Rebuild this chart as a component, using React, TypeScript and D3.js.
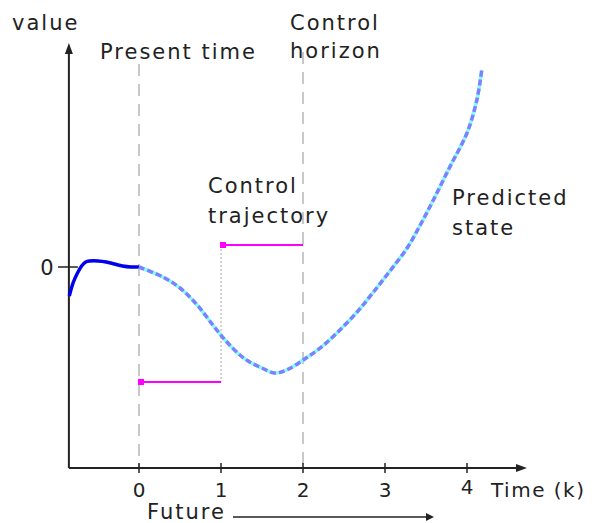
import React from "react";
import * as d3 from "d3";

// past measured output (before present time)
const pastT = [-0.85, -0.8, -0.75, -0.7, -0.65, -0.6, -0.5, -0.4, -0.3, -0.2, -0.1, 0];
const pastV = [-0.29, -0.15, -0.06, 0.01, 0.05, 0.06, 0.06, 0.05, 0.03, 0.01, 0.0, 0.0];

// predicted state
const predT = [0, 0.29, 0.5, 0.71, 0.9, 1.05, 1.23, 1.35, 1.5, 1.65, 1.8, 2.02, 2.24, 2.45, 2.66, 2.85, 3.06, 3.27, 3.43, 3.59, 3.79, 4.0, 4.12, 4.18];
const predV = [0, -0.1, -0.21, -0.38, -0.58, -0.73, -0.88, -0.95, -1.01, -1.06, -1.03, -0.92, -0.79, -0.63, -0.45, -0.26, -0.04, 0.19, 0.42, 0.67, 1.0, 1.34, 1.67, 1.97];

// control trajectory (piecewise constant)
const ctrlT = [0, 1, 2];
const ctrlV = [-1.15, 0.22];

const xTicks = [0, 1, 2, 3, 4];
const yTicks = [0];

const W = 592;
const H = 523;
const font = "'DejaVu Sans', Verdana, sans-serif";
const ink = "#222";

export default function App() {
  const x = d3.scaleLinear().domain([0, 4]).range([139, 467]);
  const y = d3.scaleLinear().domain([-2, 2]).range([467, 67]);

  const x0 = x(-0.855);
  const xEnd = 527;
  const yBase = y(-2.01);
  const yTop = 43;

  const line = d3
    .line<[number, number]>()
    .x((d) => x(d[0]))
    .y((d) => y(d[1]))
    .curve(d3.curveCatmullRom.alpha(0.5));

  const pastPath = line(pastT.map((t, i) => [t, pastV[i]]) as [number, number][]) || "";
  const predPath = line(predT.map((t, i) => [t, predV[i]]) as [number, number][]) || "";

  const txt = { fontFamily: font, fontSize: 21, fill: ink, letterSpacing: 2 } as const;

  return (
    <svg width={W} height={H} style={{ position: "absolute", left: 0, top: 0, background: "#fff" }}>
      {/* dashed guides: present time & control horizon */}
      <line x1={x(0)} x2={x(0)} y1={64} y2={yBase} stroke="#c8c8c8" strokeWidth={2} strokeDasharray="12,8" />
      <line x1={x(2)} x2={x(2)} y1={52} y2={yBase} stroke="#c8c8c8" strokeWidth={2} strokeDasharray="12,8" />

      {/* control trajectory */}
      <line x1={x(1)} x2={x(1)} y1={y(ctrlV[1])} y2={y(ctrlV[0])} stroke="#aaa" strokeWidth={1} strokeDasharray="2,2" />
      {ctrlV.map((v, i) => (
        <g key={i}>
          <line x1={x(ctrlT[i])} x2={x(ctrlT[i + 1])} y1={y(v)} y2={y(v)} stroke="#ff00ff" strokeWidth={2} />
          <rect x={x(ctrlT[i]) - 1} y={y(v) - 3} width={6} height={6} fill="#ff00ff" />
        </g>
      ))}

      {/* axes */}
      <line x1={x0} x2={xEnd - 8} y1={yBase} y2={yBase} stroke={ink} strokeWidth={2} />
      <path d={`M${xEnd},${yBase} L${xEnd - 11},${yBase - 4} L${xEnd - 11},${yBase + 4} Z`} fill={ink} />
      <line x1={x0} x2={x0} y1={yBase} y2={yTop + 8} stroke={ink} strokeWidth={2} />
      <path d={`M${x0},${yTop} L${x0 - 4},${yTop + 11} L${x0 + 4},${yTop + 11} Z`} fill={ink} />

      {xTicks.map((t) => (
        <g key={t}>
          <line x1={x(t)} x2={x(t)} y1={yBase - 5} y2={yBase + 5} stroke={ink} strokeWidth={1.5} />
          <text x={x(t) + 1} y={t === 4 ? 494 : 497} textAnchor="middle" {...txt} fontSize={20}>
            {t}
          </text>
        </g>
      ))}
      {yTicks.map((v) => (
        <g key={v}>
          <line x1={58} x2={x0 + 9} y1={y(v)} y2={y(v)} stroke={ink} strokeWidth={1.5} />
          <text x={48} y={y(v) + 8} textAnchor="middle" {...txt}>
            {v}
          </text>
        </g>
      ))}

      {/* curves */}
      <path d={pastPath} fill="none" stroke="#0000ee" strokeWidth={3.5} />
      <path d={predPath} fill="none" stroke="#80ffff" strokeWidth={3.5} />
      <path d={predPath} fill="none" stroke="#7f7fff" strokeWidth={3.5} strokeDasharray="6,3" />

      {/* labels */}
      <text x={12} y={30} {...txt}>value</text>
      <text x={100} y={59} {...txt}>Present time</text>
      <text x={290} y={30} {...txt}>Control</text>
      <text x={290} y={58} {...txt}>horizon</text>
      <text x={208} y={193} {...txt}>Control</text>
      <text x={208} y={223} {...txt}>trajectory</text>
      <text x={452} y={205} {...txt}>Predicted</text>
      <text x={452} y={235} {...txt}>state</text>
      <text x={491} y={497} {...txt} fontSize={20} letterSpacing={1.5}>Time (k)</text>

      {/* future arrow */}
      <text x={147} y={519} {...txt}>Future</text>
      <line x1={233} x2={428} y1={517} y2={517} stroke={ink} strokeWidth={1.3} />
      <path d={`M434,517 L426,513 L426,521 Z`} fill={ink} />
    </svg>
  );
}
